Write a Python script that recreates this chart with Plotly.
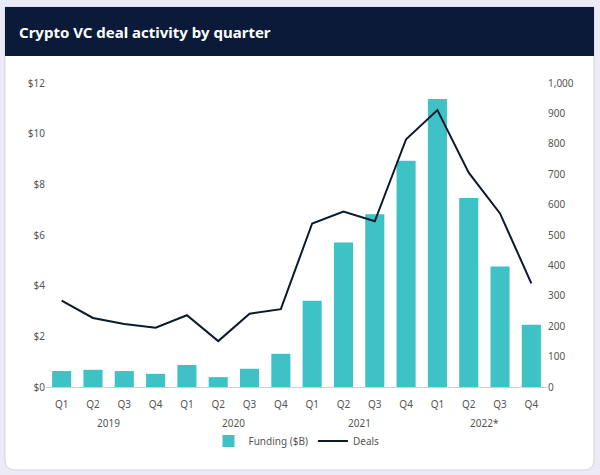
import plotly.graph_objects as go

# Données
quarters = ["Q1", "Q2", "Q3", "Q4"] * 4
years = ["2019", "2020", "2021", "2022*"]
funding = [0.63, 0.68, 0.63, 0.52, 0.87, 0.39, 0.72, 1.31,
           3.40, 5.70, 6.82, 8.93, 11.37, 7.46, 4.76, 2.46]
deals = [284, 227, 207, 195, 236, 151, 241, 256,
         538, 577, 545, 815, 911, 705, 571, 341]
left_ticks = [0, 2, 4, 6, 8, 10, 12]
right_ticks = [0, 100, 200, 300, 400, 500, 600, 700, 800, 900, 1000]

W, H = 600, 475
L, R, T, B = 46, 53, 83, 88
pw, ph = W - L - R, H - T - B


def px(x):
    return (x - L) / pw


def py(y):
    return (H - B - y) / ph


def rounded_card(x0, y0, x1, y1, r):
    # chemin en coordonnées "paper", coins arrondis en bas
    pts = [
        f"M{px(x0)},{py(y0)}", f"L{px(x1)},{py(y0)}", f"L{px(x1)},{py(y1 - r)}",
        f"Q{px(x1)},{py(y1)} {px(x1 - r)},{py(y1)}", f"L{px(x0 + r)},{py(y1)}",
        f"Q{px(x0)},{py(y1)} {px(x0)},{py(y1 - r)}", "Z",
    ]
    return " ".join(pts)


xs = list(range(len(funding)))
font = "Noto Sans"
tick_color = "#555555"

fig = go.Figure()
fig.add_trace(go.Bar(
    x=xs, y=funding, name="Funding ($B)",
    marker=dict(color="#3fc2c6", line=dict(width=0)),
))
fig.add_trace(go.Scatter(
    x=xs, y=deals, name="Deals", yaxis="y2", mode="lines",
    line=dict(color="#0d1a2c", width=2),
))

# Fond de carte + bandeau du titre
shapes = [
    dict(type="path", xref="paper", yref="paper", path=rounded_card(5, 7, 594, 470, 10),
         fillcolor="white", line=dict(color="#d3d2e0", width=1), layer="below"),
    dict(type="rect", xref="paper", yref="paper", x0=px(5), x1=px(594), y0=py(56), y1=py(7),
         fillcolor="#0b1a38", line=dict(width=0), layer="below"),
]

annotations = [
    dict(text="<b>Crypto VC deal activity by quarter</b>", xref="paper", yref="paper",
         x=px(17), y=py(32), xanchor="left", yanchor="middle", showarrow=False,
         font=dict(family=font, size=15, color="white")),
]
for i, yr in enumerate(years):
    annotations.append(dict(text=yr, xref="x", yref="paper", x=4 * i + 1.5, y=py(423),
                            xanchor="center", yanchor="middle", showarrow=False,
                            font=dict(family=font, size=10, color=tick_color)))

fig.update_layout(
    width=W, height=H,
    margin=dict(l=L, r=R, t=T, b=B),
    paper_bgcolor="#ebeaf6",
    plot_bgcolor="rgba(0,0,0,0)",
    bargap=0.39,
    showlegend=True,
    legend=dict(orientation="h", x=0.5, xanchor="center", y=py(441), yanchor="middle",
                font=dict(family=font, size=10, color=tick_color), bgcolor="rgba(0,0,0,0)"),
    xaxis=dict(tickvals=xs, ticktext=quarters, range=[-0.5, 15.5], showgrid=False,
               zeroline=False, showline=True, linecolor="#cfcfcf", linewidth=1,
               tickfont=dict(family=font, size=10, color=tick_color), ticks="",
               ticklabelstandoff=8),
    yaxis=dict(range=[0, 12], tickvals=left_ticks, ticktext=["$" + str(v) for v in left_ticks],
               showgrid=False, zeroline=False, showline=False,
               tickfont=dict(family=font, size=10, color=tick_color)),
    yaxis2=dict(range=[0, 1000], tickvals=right_ticks, ticktext=[f"{v:,}" for v in right_ticks],
                overlaying="y", side="right", showgrid=False, zeroline=False,
                tickfont=dict(family=font, size=10, color=tick_color)),
    shapes=shapes,
    annotations=annotations,
)

# la page HTML ajoute une marge de 8px autour du graphique
fig.write_html("out.html", config={"displayModeBar": False},
               post_script="document.body.style.margin='0';document.body.style.background='#ebeaf6';")
